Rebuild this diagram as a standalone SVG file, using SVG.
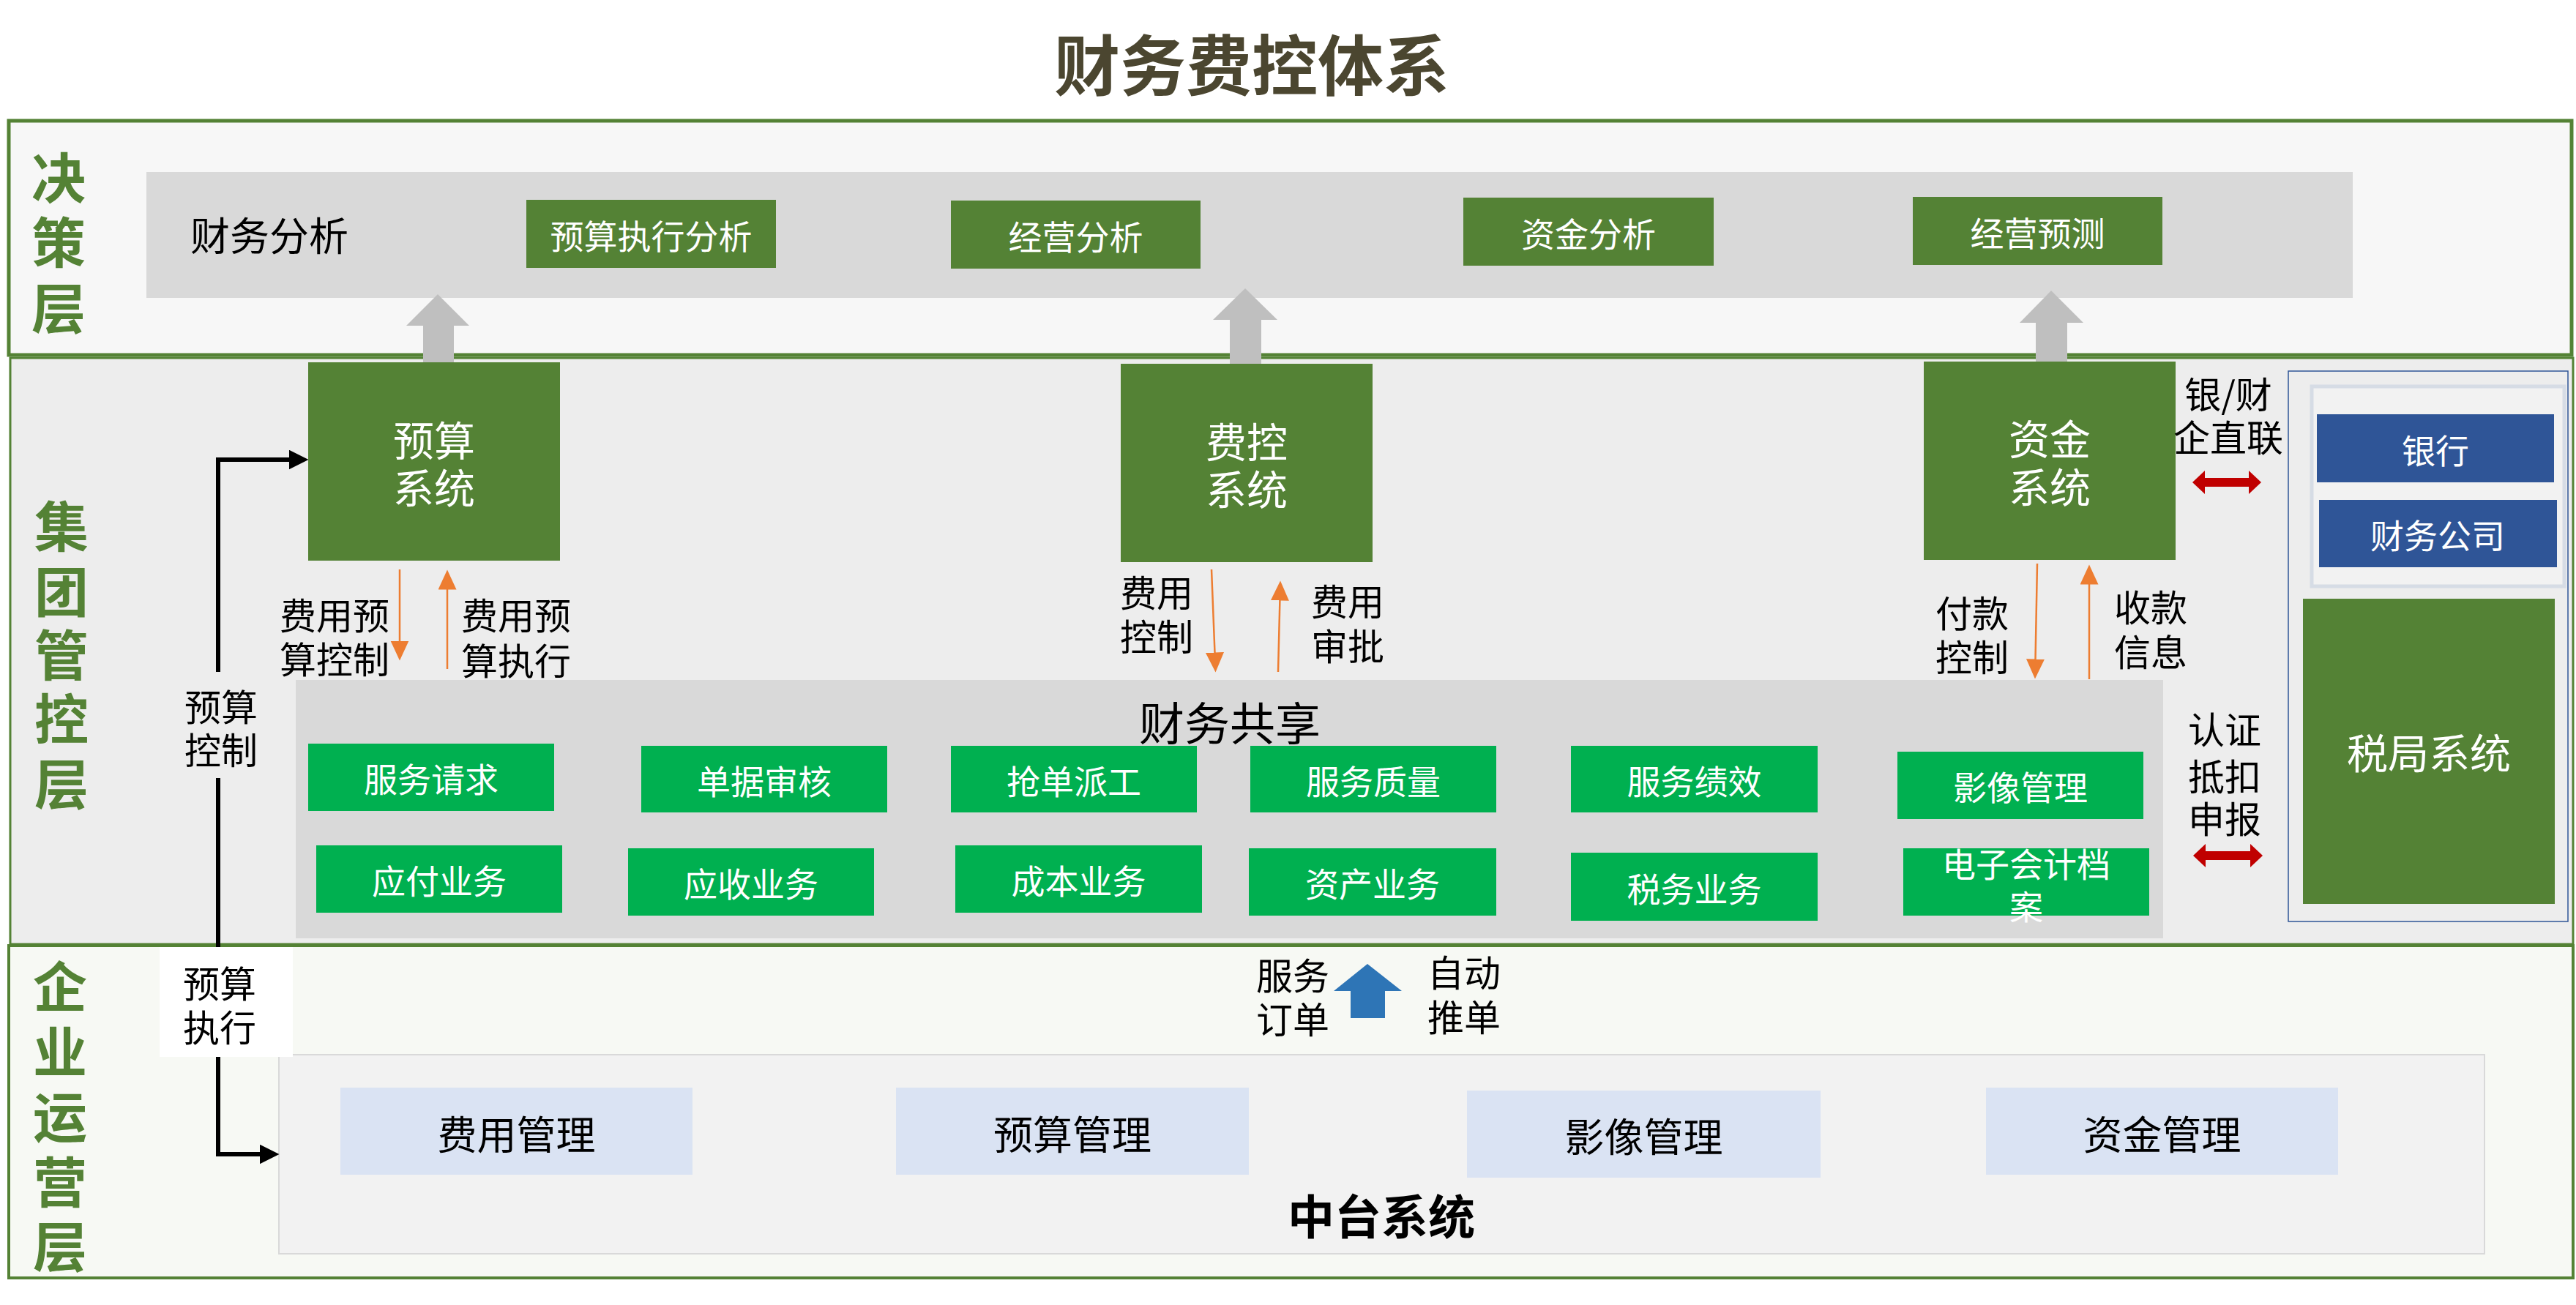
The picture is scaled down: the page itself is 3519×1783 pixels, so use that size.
<svg xmlns="http://www.w3.org/2000/svg" width="3519" height="1783" viewBox="0 0 3519 1783">
<style>
text{font-family:"Noto Sans CJK SC","Noto Sans",sans-serif;text-anchor:middle;dominant-baseline:central}
tspan{dominant-baseline:central}
.title{font-size:90px;font-weight:bold;fill:#4b4630}
.layer{font-size:74px;font-weight:bold;fill:#548235}
.dg{fill:#548235}
.bg{fill:#00b050}
.bl{fill:#2f5597}
.lb{fill:#dae3f3}
.wt46{font-size:46px;fill:#ffffff}
.wt56{font-size:56px;fill:#ffffff}
.lbl{font-size:50px;fill:#000000}
.mid{font-size:54px;fill:#000000}
.gar{fill:#bfbfbf}
.org{stroke:#ed7d31;stroke-width:2.5;fill:none;marker-end:url(#mo)}
.blk{stroke:#000000;stroke-width:6;fill:none;marker-end:url(#mb)}
.red{fill:#c00000}
</style>
<defs>
<marker id="mo" markerUnits="userSpaceOnUse" markerWidth="28" markerHeight="26" refX="0.5" refY="12.5" orient="auto" viewBox="0 0 28 26"><path d="M0,0 L27,12.5 L0,25 z" fill="#ed7d31"/></marker>
<marker id="mb" markerUnits="userSpaceOnUse" markerWidth="28" markerHeight="28" refX="0.5" refY="13.5" orient="auto" viewBox="0 0 28 28"><path d="M0,0 L27,13.5 L0,27 z" fill="#000000"/></marker>
</defs>
<rect width="3519" height="1783" fill="#ffffff"/>
<text class="title" x="1710" y="84">财务费控体系</text>

<g id="layer-decision">
<rect x="12" y="165" width="3501" height="320" fill="#f7f7f7" stroke="#548235" stroke-width="5"/>
<text class="layer"><tspan x="80" y="238">决</tspan><tspan x="80" y="326">策</tspan><tspan x="80" y="416">层</tspan></text>
</g>
<g id="layer-group">
<rect x="14" y="489" width="3501" height="801" fill="#ededed" stroke="#548235" stroke-width="3"/>
<text class="layer"><tspan x="84" y="714">集</tspan><tspan x="84" y="803">团</tspan><tspan x="84" y="890">管</tspan><tspan x="84" y="977">控</tspan><tspan x="84" y="1066">层</tspan></text>
</g>
<g id="layer-ops">
<rect x="12" y="1292" width="3503" height="454" fill="#f7f9f4" stroke="#548235" stroke-width="4"/>
<text class="layer"><tspan x="82" y="1343">企</tspan><tspan x="82" y="1432">业</tspan><tspan x="82" y="1521">运</tspan><tspan x="82" y="1610">营</tspan><tspan x="82" y="1698">层</tspan></text>
</g>

<g id="finance-analysis">
<rect x="200" y="235" width="3014" height="172" fill="#d9d9d9"/>
<text x="260" y="319" style="font-size:54px;text-anchor:start">财务分析</text>
</g>
<g id="budget-exec-analysis"><rect class="dg" x="719" y="273" width="341" height="93"/><text class="wt46" x="889.5" y="319.5">预算执行分析</text></g>
<g id="business-analysis"><rect class="dg" x="1299" y="274" width="341" height="93"/><text class="wt46" x="1469.5" y="320.5">经营分析</text></g>
<g id="fund-analysis"><rect class="dg" x="1999" y="270" width="342" height="93"/><text class="wt46" x="2170" y="316.5">资金分析</text></g>
<g id="business-forecast"><rect class="dg" x="2613" y="269" width="341" height="93"/><text class="wt46" x="2783.5" y="315.5">经营预测</text></g>

<g id="finance-shared">
<rect x="404" y="929" width="2551" height="353" fill="#d9d9d9"/>
<text x="1680" y="985" style="font-size:62px">财务共享</text>
</g>

<g id="middle-platform">
<rect x="381" y="1441" width="3013" height="272" fill="#f2f2f2" stroke="#d9d9d9" stroke-width="2"/>
<text x="1887" y="1658" style="font-size:64px;font-weight:bold">中台系统</text>
</g>

<g id="bank-group">
<rect x="3126" y="507" width="382" height="752" fill="none" stroke="#2f5597" stroke-width="1.5"/>
<rect x="3158" y="528" width="345" height="273" fill="#f2f2f2" stroke="#d6dce5" stroke-width="5"/>
</g>

<g id="connectors">
<polygon class="gar" points="598,402 641,445 620,445 620,495 578,495 578,445 555,445"/>
<polygon class="gar" points="1701,394 1745,437 1723,437 1723,497 1680,497 1680,437 1657,437"/>
<polygon class="gar" points="2802,397 2846,441 2824,441 2824,494 2781,494 2781,441 2759,441"/>
<path class="org" d="M546,778 V876"/>
<path class="org" d="M611,914 V805"/>
<path class="org" d="M1655,778 L1659.5,892"/>
<path class="org" d="M1746,918 L1748.4,820"/>
<path class="org" d="M2783,770 L2780.5,901"/>
<path class="org" d="M2854,928 V798"/>
<path class="blk" d="M298,1292 V628 H395"/>
<path class="blk" d="M298,1292 V1577 H355"/>
<polygon class="red" points="2995,659 3012,643 3012,653 3072,653 3072,643 3089,659 3072,675 3072,665 3012,665 3012,675"/>
<polygon class="red" points="2996,1169 3013,1153 3013,1163 3074,1163 3074,1153 3091,1169 3074,1185 3074,1175 3013,1175 3013,1185"/>
<polygon fill="#2e75b6" points="1868,1317 1915,1354 1892,1354 1892,1391 1845,1391 1845,1354 1822,1354"/>
</g>

<g id="budget-system"><rect class="dg" x="421" y="495" width="344" height="271"/><text class="wt56"><tspan x="593" y="598">预算</tspan><tspan x="593" y="663">系统</tspan></text></g>
<g id="expense-system"><rect class="dg" x="1531" y="497" width="344" height="271"/><text class="wt56"><tspan x="1703" y="600">费控</tspan><tspan x="1703" y="665">系统</tspan></text></g>
<g id="fund-system"><rect class="dg" x="2628" y="494" width="344" height="271"/><text class="wt56"><tspan x="2800" y="596">资金</tspan><tspan x="2800" y="662">系统</tspan></text></g>
<g id="bank"><rect class="bl" x="3165" y="566" width="324" height="93"/><text class="wt46" x="3327" y="612.5">银行</text></g>
<g id="finance-company"><rect class="bl" x="3168" y="683" width="325" height="92"/><text class="wt46" x="3330" y="729">财务公司</text></g>
<g id="tax-system"><rect class="dg" x="3146" y="818" width="344" height="417"/><text class="wt56" x="3318" y="1025">税局系统</text></g>

<g id="service-request"><rect class="bg" x="421" y="1016" width="336" height="92"/><text class="wt46" x="589" y="1062">服务请求</text></g>
<g id="doc-review"><rect class="bg" x="876" y="1019" width="336" height="91"/><text class="wt46" x="1044" y="1064.5">单据审核</text></g>
<g id="dispatch"><rect class="bg" x="1299" y="1019" width="336" height="91"/><text class="wt46" x="1467" y="1064.5">抢单派工</text></g>
<g id="service-quality"><rect class="bg" x="1708" y="1019" width="336" height="91"/><text class="wt46" x="1876" y="1064.5">服务质量</text></g>
<g id="service-perf"><rect class="bg" x="2146" y="1019" width="337" height="91"/><text class="wt46" x="2314.5" y="1064.5">服务绩效</text></g>
<g id="image-mgmt"><rect class="bg" x="2592" y="1027" width="336" height="92"/><text class="wt46" x="2760" y="1073">影像管理</text></g>
<g id="payable"><rect class="bg" x="432" y="1155" width="336" height="92"/><text class="wt46" x="600" y="1201">应付业务</text></g>
<g id="receivable"><rect class="bg" x="858" y="1159" width="336" height="92"/><text class="wt46" x="1026" y="1205">应收业务</text></g>
<g id="cost"><rect class="bg" x="1305" y="1155" width="337" height="92"/><text class="wt46" x="1473.5" y="1201">成本业务</text></g>
<g id="asset"><rect class="bg" x="1706" y="1159" width="338" height="92"/><text class="wt46" x="1875" y="1205">资产业务</text></g>
<g id="tax-business"><rect class="bg" x="2146" y="1165" width="337" height="93"/><text class="wt46" x="2314.5" y="1211.5">税务业务</text></g>
<g id="e-archive"><rect class="bg" x="2600" y="1159" width="336" height="92"/><text class="wt46"><tspan x="2768" y="1178">电子会计档</tspan><tspan x="2768" y="1236">案</tspan></text></g>

<g id="expense-mgmt"><rect class="lb" x="465" y="1486" width="481" height="119"/><text class="mid" x="705.5" y="1547">费用管理</text></g>
<g id="budget-mgmt"><rect class="lb" x="1224" y="1486" width="482" height="119"/><text class="mid" x="1465" y="1547">预算管理</text></g>
<g id="image-mgmt-mid"><rect class="lb" x="2004" y="1490" width="483" height="119"/><text class="mid" x="2245.5" y="1550">影像管理</text></g>
<g id="fund-mgmt"><rect class="lb" x="2713" y="1486" width="481" height="119"/><text class="mid" x="2953.5" y="1547">资金管理</text></g>

<g id="labels">
<text class="lbl"><tspan x="457" y="838">费用预</tspan><tspan x="457" y="898">算控制</tspan></text>
<text class="lbl"><tspan x="705" y="838">费用预</tspan><tspan x="705" y="900">算执行</tspan></text>
<rect x="245" y="918" width="115" height="145" fill="#ededed"/>
<text class="lbl"><tspan x="302" y="963">预算</tspan><tspan x="302" y="1022">控制</tspan></text>
<rect x="218" y="1294" width="182" height="150" fill="#ffffff"/>
<text class="lbl"><tspan x="300" y="1341">预算</tspan><tspan x="300" y="1401">执行</tspan></text>
<text class="lbl"><tspan x="1580" y="807">费用</tspan><tspan x="1580" y="867">控制</tspan></text>
<text class="lbl"><tspan x="1841" y="819">费用</tspan><tspan x="1841" y="880">审批</tspan></text>
<text class="lbl"><tspan x="2694" y="835">付款</tspan><tspan x="2694" y="895">控制</tspan></text>
<text class="lbl"><tspan x="2938" y="827">收款</tspan><tspan x="2938" y="888">信息</tspan></text>
<text class="lbl"><tspan x="3044" y="536">银/财</tspan><tspan x="3044" y="595">企直联</tspan></text>
<text class="lbl"><tspan x="3039" y="994">认证</tspan><tspan x="3039" y="1058">抵扣</tspan><tspan x="3039" y="1116">申报</tspan></text>
<text class="lbl"><tspan x="1766" y="1330">服务</tspan><tspan x="1766" y="1390">订单</tspan></text>
<text class="lbl"><tspan x="2000" y="1326">自动</tspan><tspan x="2000" y="1387">推单</tspan></text>
</g>
</svg>
